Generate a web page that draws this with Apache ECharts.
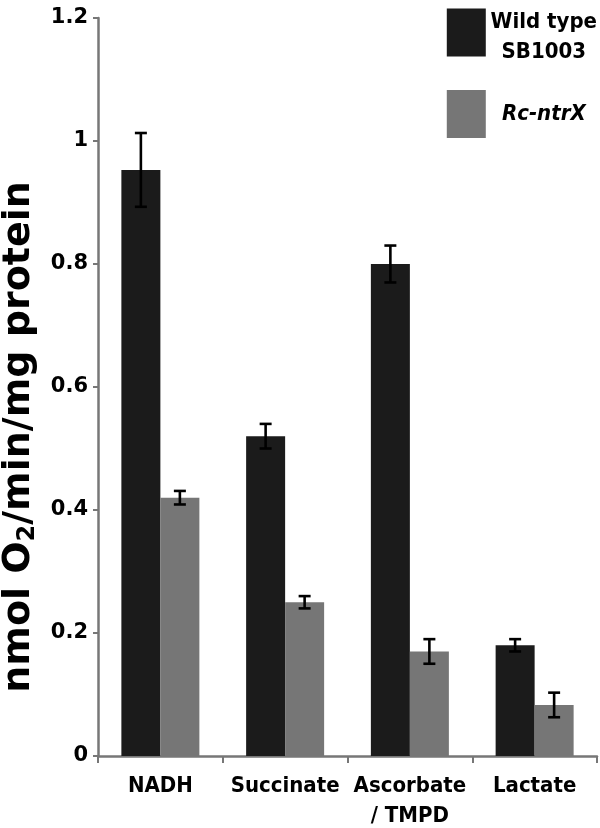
<!DOCTYPE html>
<html>
<head>
<meta charset="utf-8">
<script src="https://cdn.jsdelivr.net/npm/echarts@6/dist/echarts.min.js"></script>
<style>html,body{margin:0;padding:0;background:#fff}#c{width:600px;height:828px}</style>
</head>
<body>
<div id="c"></div>
<script>
var categories = ['NADH', 'Succinate', 'Ascorbate\n/ TMPD', 'Lactate'];
var seriesNames = ['Wild type SB1003', 'Rc-ntrX'];
var wildType = [0.953, 0.52, 0.80, 0.18];
var wildTypeErr = [0.06, 0.02, 0.03, 0.01];
var mutant = [0.42, 0.25, 0.17, 0.083];
var mutantErr = [0.011, 0.01, 0.02, 0.02];
var yTicks = [0, 0.2, 0.4, 0.6, 0.8, 1, 1.2];

var BAR_W = 39;
var narrow = "'Liberation Sans Narrow', 'DejaVu Sans Condensed', sans-serif";

function errSeries(vals, errs, side) {
  return {
    type: 'custom',
    silent: true,
    z: 10,
    data: vals.map(function (v, i) { return [i, v - errs[i], v + errs[i]]; }),
    renderItem: function (params, api) {
      var c = api.coord([api.value(0), 0]);
      var x = c[0] + side * BAR_W / 2;
      var lo = api.coord([api.value(0), api.value(1)])[1];
      var hi = api.coord([api.value(0), api.value(2)])[1];
      var cap = 6;
      var st = { stroke: '#000', lineWidth: 2.6 };
      return {
        type: 'group',
        children: [
          { type: 'line', shape: { x1: x, y1: lo, x2: x, y2: hi }, style: st },
          { type: 'line', shape: { x1: x - cap, y1: lo, x2: x + cap, y2: lo }, style: st },
          { type: 'line', shape: { x1: x - cap, y1: hi, x2: x + cap, y2: hi }, style: st }
        ]
      };
    }
  };
}

var chart = echarts.init(document.getElementById('c'));
chart.setOption({
  animation: false,
  grid: { left: 98, right: 3, top: 18, bottom: 72, containLabel: false, outerBoundsMode: 'none' },
  legend: {
    orient: 'vertical',
    right: 3,
    top: 2,
    padding: 0,
    itemWidth: 39,
    itemHeight: 48,
    itemGap: 27,
    icon: 'rect',
    selectedMode: false,
    data: seriesNames,
    formatter: function (name) {
      if (name === seriesNames[0]) return '{a|Wild type}\n{a|SB1003}';
      return '{b|Rc-ntrX}';
    },
    textStyle: {
      rich: {
        a: { fontFamily: narrow, fontWeight: 'bold', fontSize: 22, width: 106, align: 'center', lineHeight: 30, color: '#000', padding: [9, 0, 0, 0] },
        b: { fontFamily: narrow, fontWeight: 'bold', fontStyle: 'italic', fontSize: 22, width: 106, align: 'center', lineHeight: 30, color: '#000' }
      }
    }
  },
  xAxis: {
    type: 'category',
    data: categories,
    axisLine: { lineStyle: { color: '#777', width: 2.5 } },
    axisTick: { show: true, length: 7, lineStyle: { color: '#777', width: 2 } },
    axisLabel: { fontFamily: narrow, fontWeight: 'bold', fontSize: 22, color: '#000', lineHeight: 30, margin: 15, interval: 0 }
  },
  yAxis: {
    type: 'value',
    min: 0,
    max: 1.2,
    interval: 0.2,
    splitLine: { show: false },
    axisLine: { show: true, lineStyle: { color: '#777', width: 2.5 } },
    axisTick: { show: true, length: 5, lineStyle: { color: '#777', width: 2 } },
    axisLabel: {
      fontFamily: 'DejaVu Sans', fontWeight: 'bold', fontSize: 21, color: '#000', margin: 10,
      formatter: function (v) {
        var t = yTicks.filter(function (k) { return Math.abs(k - v) < 1e-9; });
        return t.length ? String(t[0]) : '';
      }
    },
    name: '{t|nmol O}{s|2}{t|/min/mg protein}',
    nameLocation: 'middle',
    nameGap: 40,
    nameRotate: 90,
    nameTextStyle: {
      padding: [0, 100, 0, 0],
      rich: {
        t: { fontFamily: 'DejaVu Sans', fontWeight: 'bold', fontSize: 38, color: '#000' },
        s: { fontFamily: 'DejaVu Sans', fontWeight: 'bold', fontSize: 24, color: '#000', padding: [18, 0, 0, 0] }
      }
    }
  },
  series: [
    { name: seriesNames[0], type: 'bar', data: wildType, barWidth: BAR_W, barGap: '0%', itemStyle: { color: '#1b1b1b' } },
    { name: seriesNames[1], type: 'bar', data: mutant, barWidth: BAR_W, barGap: '0%', itemStyle: { color: '#767676' } },
    errSeries(wildType, wildTypeErr, -1),
    errSeries(mutant, mutantErr, 1)
  ]
});
</script>
</body>
</html>
